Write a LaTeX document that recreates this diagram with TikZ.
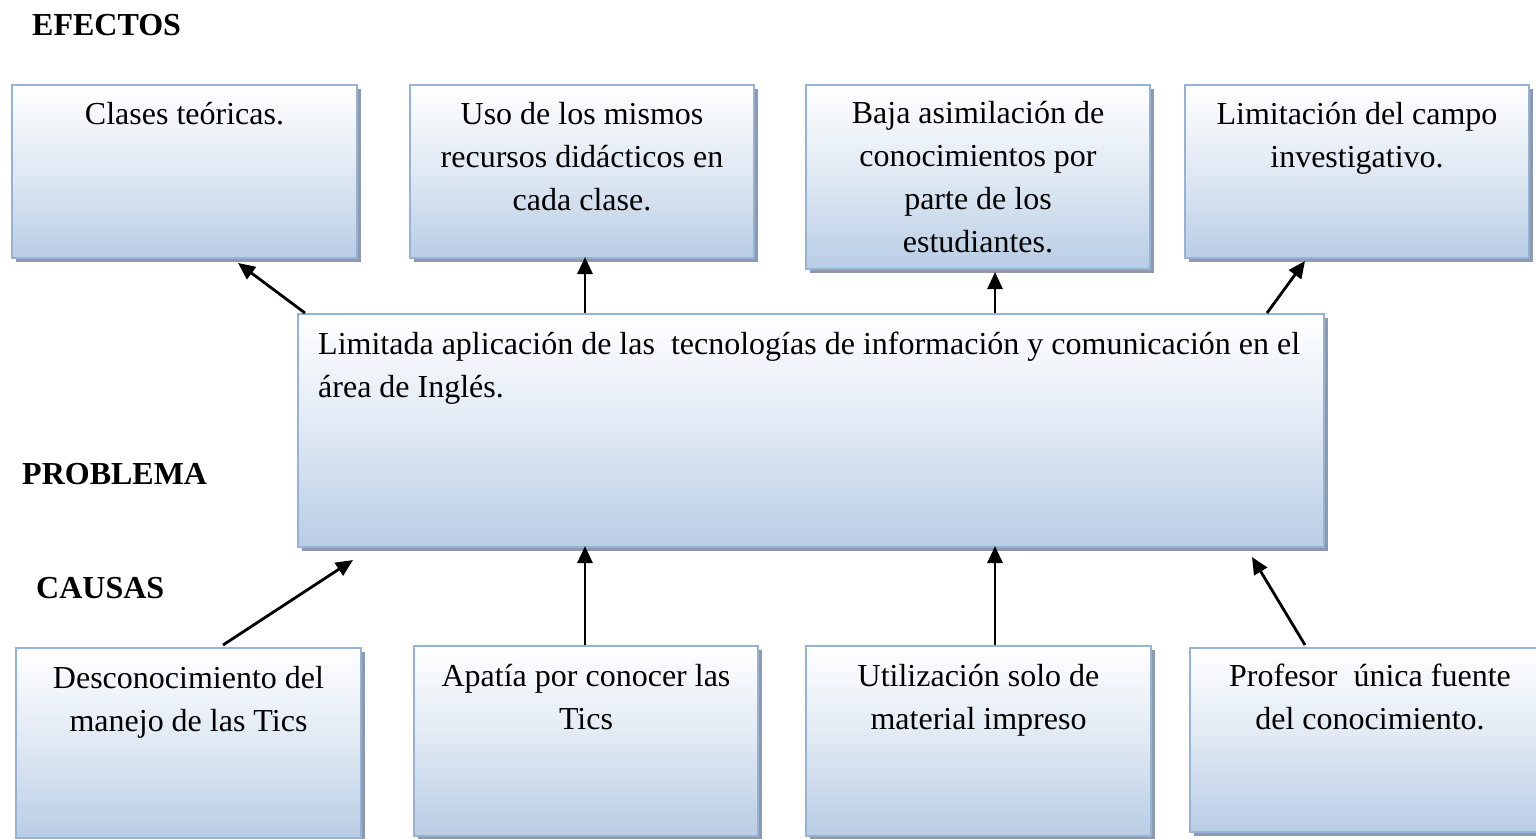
\documentclass[tikz,border=0pt]{standalone}
\usepackage{fontspec}
\setmainfont{Liberation Serif}
\usetikzlibrary{shadows,arrows.meta,calc}
\definecolor{boxborder}{HTML}{95B3D7}
\definecolor{boxbottom}{HTML}{B9CDE5}
\definecolor{shadowgray}{HTML}{8E9AAB}
\tikzset{
  box/.style={draw=boxborder, line width=2pt, rectangle, inner sep=0pt, anchor=north west,
    top color=white, bottom color=boxbottom, middle color=boxbottom!45!white,
    drop shadow={shadow xshift=4pt, shadow yshift=-4pt, fill=shadowgray, opacity=1}},
  txt/.style={font=\fontsize{32pt}{43pt}\selectfont, align=center, inner sep=0pt, anchor=north},
  ltxt/.style={font=\fontsize{32pt}{43pt}\selectfont, align=left, inner sep=0pt, anchor=north west},
  hdr/.style={font=\fontsize{32pt}{38pt}\selectfont\bfseries, inner sep=0pt, anchor=base west},
  arr/.style={line width=2.8pt, -{Triangle[length=17pt,width=15pt]}}
}
\begin{document}
\begin{tikzpicture}[x=1pt,y=-1pt]
\useasboundingbox (0,0) rectangle (1536,838);
% headers
\node[hdr] (hef) at (32,35) {EFECTOS};
\node[hdr] (hpr) at (22,484) {PROBLEMA};
\node[hdr] (hca) at (36,598) {CAUSAS};
% top boxes
\node[box, minimum width=345pt, minimum height=173pt] (e1) at (11,84) {};
\node[box, minimum width=344pt, minimum height=173pt] (e2) at (409,84) {};
\node[box, minimum width=344pt, minimum height=184pt] (e3) at (805,84) {};
\node[box, minimum width=344pt, minimum height=173pt] (e4) at (1184,84) {};
\node[txt] (e1t) at ($(e1.north)+(0,10)$) {\strut Clases teóricas.};
\node[txt] (e2t) at ($(e2.north)+(0,10)$) {\strut Uso de los mismos\\recursos didácticos en\\cada clase.};
\node[txt] (e3t) at ($(e3.north)+(0,9)$) {\strut Baja asimilación de\\conocimientos por\\parte de los\\estudiantes.};
\node[txt] (e4t) at ($(e4.north)+(0,10)$) {\strut Limitación del campo\\investigativo.};
% problem box
\node[box, minimum width=1026pt, minimum height=233pt] (p) at (297,313) {};
\node[ltxt] (pt) at ($(p.north west)+(21,11)$) {\strut Limitada aplicación de las\ \ tecnologías de información y comunicación en el\\área de Inglés.};
% bottom boxes
\node[box, minimum width=345pt, minimum height=190pt] (c1) at (15,647) {};
\node[box, minimum width=344pt, minimum height=190pt] (c2) at (413,645) {};
\node[box, minimum width=345pt, minimum height=190pt] (c3) at (805,645) {};
\node[box, minimum width=360pt, minimum height=184pt] (c4) at (1189,647) {};
\node[txt] (c1t) at ($(c1.north)+(0,11)$) {\strut Desconocimiento del\\manejo de las Tics};
\node[txt] (c2t) at ($(c2.north)+(0,11)$) {\strut Apatía por conocer las\\Tics};
\node[txt] (c3t) at ($(c3.north)+(0,11)$) {\strut Utilización solo de\\material impreso};
\node[txt] (c4t) at ($(c4.north west)+(181,9)$) {\strut Profesor\ \ única fuente\\del conocimiento.};
% arrows up from problem to effects
\draw[arr] ($(p.north west)+(8,0)$) -- ($(e1.south west)+(227,4)$);
\draw[arr] ($(p.north west)+(288,0)$) -- ($(e2.south west)+(176,-2)$);
\draw[arr] ($(p.north west)+(698,0)$) -- ($(e3.south west)+(190,2)$);
\draw[arr] ($(p.north west)+(970,0)$) -- ($(e4.south west)+(121,2)$);
% arrows from causes to problem
\draw[arr] ($(c1.north west)+(208,-2)$) -- ($(p.south west)+(56,12)$);
\draw[arr] ($(c2.north west)+(172,0)$) -- ($(p.south west)+(288,-2)$);
\draw[arr] ($(c3.north west)+(190,0)$) -- ($(p.south west)+(698,-2)$);
\draw[arr] ($(c4.north west)+(116,-2)$) -- ($(p.south west)+(955,9)$);
\end{tikzpicture}
\end{document}
